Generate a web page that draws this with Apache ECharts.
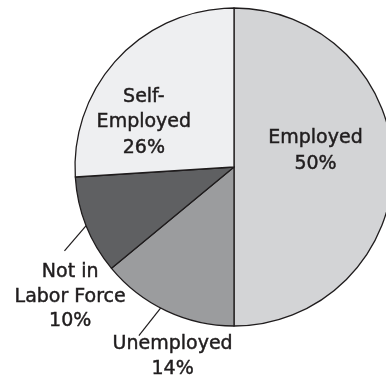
<!DOCTYPE html>
<html>
<head>
<meta charset="utf-8">
<script src="https://cdn.jsdelivr.net/npm/echarts@6/dist/echarts.min.js"></script>
<style>
  html, body { margin: 0; padding: 0; background: #ffffff; }
  #chart { width: 386px; height: 383px; }
</style>
</head>
<body>
<div id="chart"></div>
<script>
// Workforce status shares, clockwise from 12 o'clock
const categories = ['Employed', 'Unemployed', 'Not in\nLabor Force', 'Self-\nEmployed'];
const shares = [50, 14, 10, 26];
const sliceColors = ['#d3d4d6', '#9b9c9e', '#5f6062', '#eeeff1'];
const labelPlacement = ['inside', 'outside', 'outside', 'inside'];

const PIE_CENTER = [234, 167];
const PIE_RADIUS = 159;
const INK = '#1f1c1d';

// Shift of inside labels from their default spot (px)
const insideOffsets = {
  0: [-1, -16],
  3: [-30, 12]
};
// Leader line for outside labels:
// [angle shift along rim (deg), line dx, line dy, label dx, label dy]
const leaders = {
  1: [2.3, -21.7, 27.7, 33.7, -3.5],
  2: [0, -21.7, 25.3, 5.7, 9.5]
};

const chart = echarts.init(document.getElementById('chart'), null, { renderer: 'canvas' });

const pieData = categories.map(function (name, i) {
  const outside = labelPlacement[i] === 'outside';
  return {
    name: name,
    value: shares[i],
    itemStyle: { color: sliceColors[i] },
    label: {
      position: labelPlacement[i],
      offset: insideOffsets[i] || [0, 0],
      lineHeight: outside ? 24.3 : 25.5
    },
    labelLine: { show: outside }
  };
});

chart.setOption({
  animation: false,
  backgroundColor: '#ffffff',
  series: [{
    type: 'pie',
    center: PIE_CENTER,
    radius: PIE_RADIUS,
    startAngle: 90,
    clockwise: true,
    avoidLabelOverlap: false,
    silent: true,
    data: pieData,
    itemStyle: { borderColor: INK, borderWidth: 1.3 },
    label: {
      formatter: '{b}\n{c}%',
      fontFamily: 'DejaVu Sans',
      fontSize: 19,
      color: INK,
      textBorderColor: INK,
      textBorderWidth: 0.45,
      align: 'center'
    },
    labelLine: {
      length: 10,
      length2: 0,
      lineStyle: { color: INK, width: 1.2 }
    },
    emphasis: { disabled: true },
    labelLayout: function (params) {
      const spec = leaders[params.dataIndex];
      if (!spec || !params.labelLinePoints) { return {}; }
      const rim = params.labelLinePoints[0];
      const ang = Math.atan2(rim[1] - PIE_CENTER[1], rim[0] - PIE_CENTER[0]) + spec[0] * Math.PI / 180;
      const p0 = [PIE_CENTER[0] + PIE_RADIUS * Math.cos(ang), PIE_CENTER[1] + PIE_RADIUS * Math.sin(ang)];
      const p1 = [p0[0] + spec[1], p0[1] + spec[2]];
      return {
        x: p1[0] + spec[3],
        y: p1[1] + spec[4],
        align: 'center',
        verticalAlign: 'top',
        labelLinePoints: [p0, p1, p1]
      };
    }
  }]
});
</script>
</body>
</html>
